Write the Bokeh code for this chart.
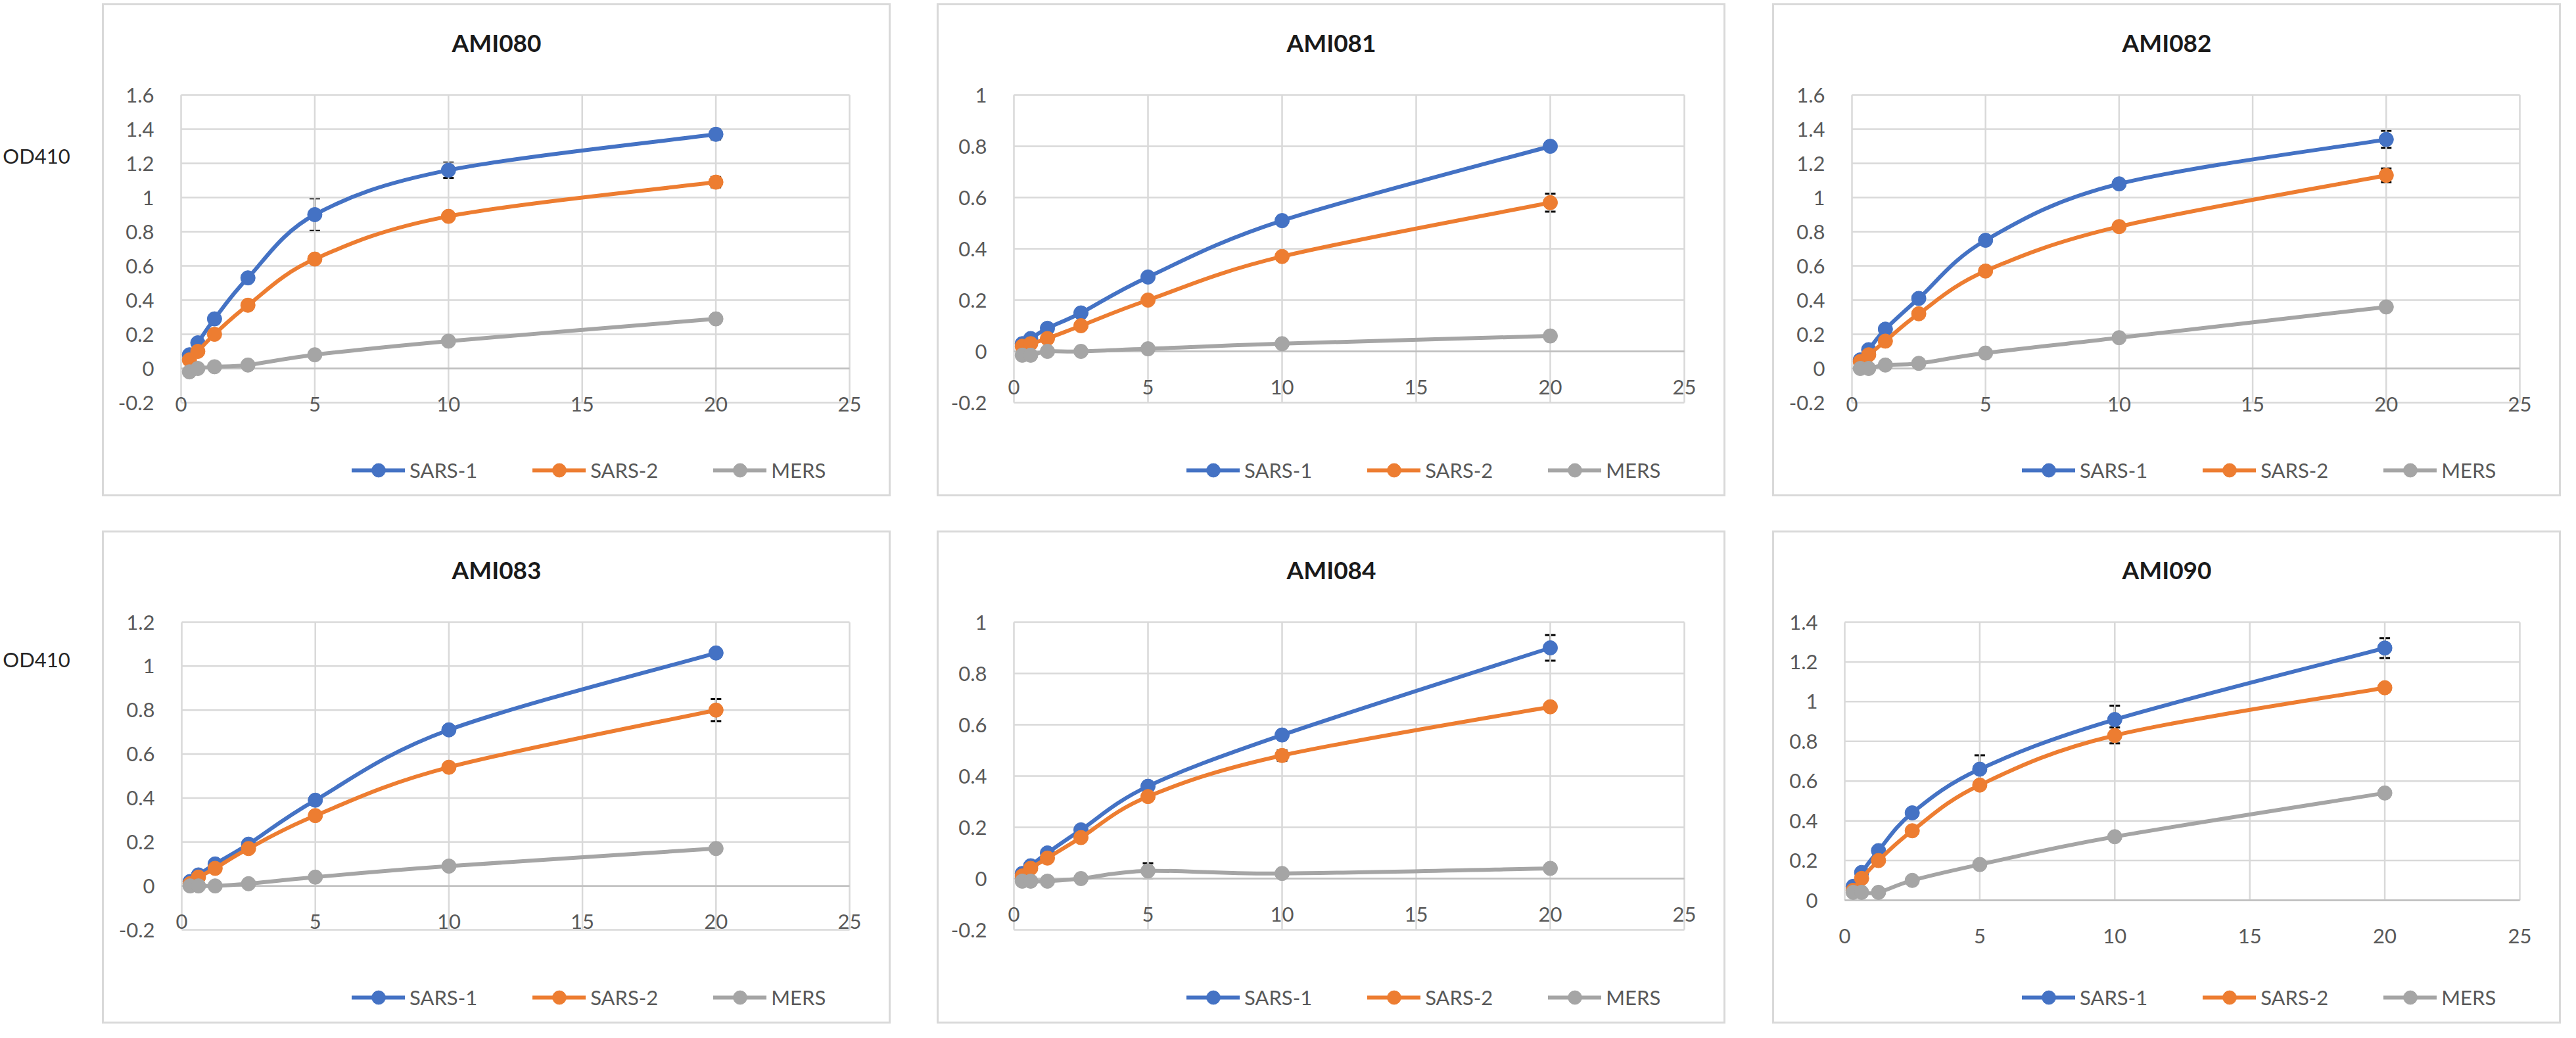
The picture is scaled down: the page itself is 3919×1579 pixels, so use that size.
from bokeh.plotting import figure
from bokeh.models import (Range1d, FixedTicker, CustomJSTickFormatter, Legend, LegendItem,
                          Whisker, ColumnDataSource, TeeHead, Label, Spacer)
from bokeh.layouts import row, column
from bokeh.embed import file_html
from bokeh.resources import INLINE

# ---------------- data ----------------
doses = [0.3125, 0.625, 1.25, 2.5, 5, 10, 20]
series_names = ["SARS-1", "SARS-2", "MERS"]
panel_titles = ["AMI080", "AMI081", "AMI082", "AMI083", "AMI084", "AMI090"]
x_ticks = [0, 5, 10, 15, 20, 25]

y_ticks_080 = [-0.2, 0.0, 0.2, 0.4, 0.6, 0.8, 1.0, 1.2, 1.4, 1.6]
y_ticks_081 = [-0.2, 0.0, 0.2, 0.4, 0.6, 0.8, 1.0]
y_ticks_082 = [-0.2, 0.0, 0.2, 0.4, 0.6, 0.8, 1.0, 1.2, 1.4, 1.6]
y_ticks_083 = [-0.2, 0.0, 0.2, 0.4, 0.6, 0.8, 1.0, 1.2]
y_ticks_084 = [-0.2, 0.0, 0.2, 0.4, 0.6, 0.8, 1.0]
y_ticks_090 = [0.0, 0.2, 0.4, 0.6, 0.8, 1.0, 1.2, 1.4]

ami080_sars1 = [0.08, 0.15, 0.29, 0.53, 0.90, 1.16, 1.37]
ami080_sars2 = [0.05, 0.10, 0.20, 0.37, 0.64, 0.89, 1.09]
ami080_mers = [-0.02, 0.00, 0.01, 0.02, 0.08, 0.16, 0.29]
ami080_sars1_err = [0, 0, 0, 0, 0.095, 0.045, 0.03]
ami080_sars2_err = [0, 0, 0, 0, 0, 0, 0.03]
ami080_mers_err = [0, 0, 0, 0, 0, 0, 0]

ami081_sars1 = [0.03, 0.05, 0.09, 0.15, 0.29, 0.51, 0.80]
ami081_sars2 = [0.02, 0.03, 0.05, 0.10, 0.20, 0.37, 0.58]
ami081_mers = [-0.015, -0.015, 0.00, 0.00, 0.01, 0.03, 0.06]
ami081_sars1_err = [0, 0, 0, 0, 0, 0, 0]
ami081_sars2_err = [0, 0, 0, 0, 0, 0, 0.035]
ami081_mers_err = [0, 0, 0, 0, 0, 0, 0]

ami082_sars1 = [0.05, 0.11, 0.23, 0.41, 0.75, 1.08, 1.34]
ami082_sars2 = [0.04, 0.08, 0.16, 0.32, 0.57, 0.83, 1.13]
ami082_mers = [0.00, 0.00, 0.02, 0.03, 0.09, 0.18, 0.36]
ami082_sars1_err = [0, 0, 0, 0, 0, 0, 0.05]
ami082_sars2_err = [0, 0, 0, 0, 0, 0, 0.04]
ami082_mers_err = [0, 0, 0, 0, 0, 0, 0]

ami083_sars1 = [0.02, 0.05, 0.10, 0.19, 0.39, 0.71, 1.06]
ami083_sars2 = [0.01, 0.04, 0.08, 0.17, 0.32, 0.54, 0.80]
ami083_mers = [0.00, 0.00, 0.00, 0.01, 0.04, 0.09, 0.17]
ami083_sars1_err = [0, 0, 0, 0, 0, 0, 0]
ami083_sars2_err = [0, 0, 0, 0, 0, 0, 0.05]
ami083_mers_err = [0, 0, 0, 0, 0, 0, 0]

ami084_sars1 = [0.02, 0.05, 0.10, 0.19, 0.36, 0.56, 0.90]
ami084_sars2 = [0.01, 0.04, 0.08, 0.16, 0.32, 0.48, 0.67]
ami084_mers = [-0.01, -0.01, -0.01, 0.00, 0.03, 0.02, 0.04]
ami084_sars1_err = [0, 0, 0, 0, 0, 0, 0.05]
ami084_sars2_err = [0, 0, 0, 0, 0, 0.02, 0]
ami084_mers_err = [0, 0, 0, 0, 0.03, 0, 0]

ami090_sars1 = [0.07, 0.14, 0.25, 0.44, 0.66, 0.91, 1.27]
ami090_sars2 = [0.05, 0.11, 0.20, 0.35, 0.58, 0.83, 1.07]
ami090_mers = [0.04, 0.04, 0.04, 0.10, 0.18, 0.32, 0.54]
ami090_sars1_err = [0, 0, 0, 0, 0.07, 0.07, 0.05]
ami090_sars2_err = [0, 0, 0, 0, 0, 0.04, 0]
ami090_mers_err = [0, 0, 0, 0, 0, 0, 0]

# ---------------- styling ----------------
COLORS = ["#4472C4", "#ED7D31", "#A5A5A5"]
FONT = "Lato"
TICK_COLOR = "#595959"
GRID_COLOR = "#d9d9d9"
AXIS_COLOR = "#bfbfbf"

PANEL_W, PANEL_H = 1200, 750
CHART_TOP = 139       # pixel row of the top gridline inside a panel
X_RIGHT = 1137        # pixel column of x = 25 inside a panel
PAD = 24              # extra frame room so the end tick labels are not clipped
FRAME_TOP = 8         # frame extends up to hold the title
FRAME_BOTTOM = 740    # frame extends down to hold the legend
TITLE_Y = 59          # title centre row inside a panel
LEGEND_X = 380        # legend left edge inside a panel
LEGEND_TOP = 684      # legend top inside a panel
GLYPH_H = 52


def smooth_segments(xs, ys):
    """Control points for an Excel-like smoothed line through the data points."""
    n = len(xs)
    seg = dict(x0=[], y0=[], x1=[], y1=[], cx0=[], cy0=[], cx1=[], cy1=[])
    for i in range(n - 1):
        a = i - 1 if i > 0 else i
        d = i + 2 if i + 2 < n else i + 1
        seg["x0"].append(xs[i]); seg["y0"].append(ys[i])
        seg["x1"].append(xs[i + 1]); seg["y1"].append(ys[i + 1])
        seg["cx0"].append(xs[i] + (xs[i + 1] - xs[a]) / 6.0)
        seg["cy0"].append(ys[i] + (ys[i + 1] - ys[a]) / 6.0)
        seg["cx1"].append(xs[i + 1] - (xs[d] - xs[i]) / 6.0)
        seg["cy1"].append(ys[i + 1] - (ys[d] - ys[i]) / 6.0)
    return seg


def make_panel(title, yticks, series, errors, x0_px, chart_bottom_px):
    ymin, ymax = yticks[0], yticks[-1]
    xmin, xmax = x_ticks[0], x_ticks[-1]
    ppu_x = (X_RIGHT - x0_px) / (xmax - xmin)
    ppu_y = (chart_bottom_px - CHART_TOP) / (ymax - ymin)
    x_pad = PAD / ppu_x
    y_ext_lo = (FRAME_BOTTOM - chart_bottom_px) / ppu_y
    y_ext_hi = (CHART_TOP - FRAME_TOP) / ppu_y

    frame_left = x0_px - PAD
    frame_right = X_RIGHT + PAD
    p = figure(width=PANEL_W, height=PANEL_H,
               x_range=Range1d(xmin - x_pad, xmax + x_pad),
               y_range=Range1d(ymin - y_ext_lo, ymax + y_ext_hi),
               output_backend="svg", toolbar_location=None,
               min_border_left=frame_left, min_border_right=PANEL_W - frame_right,
               min_border_top=FRAME_TOP, min_border_bottom=PANEL_H - FRAME_BOTTOM)
    p.styles = {"box-shadow": "inset 0 0 0 3px #d9d9d9"}
    p.background_fill_color = "white"
    p.border_fill_alpha = 0
    p.outline_line_color = None

    # panel title, centred on the panel
    p.add_layout(Label(x=xmin + (PANEL_W / 2 - x0_px) / ppu_x,
                       y=ymax + (CHART_TOP - TITLE_Y) / ppu_y,
                       text=title, text_align="center", text_baseline="middle",
                       text_font=FONT, text_font_size="37px", text_font_style="bold",
                       text_color="#1a1a1a"))

    fmt = CustomJSTickFormatter(code="return String(Number(tick.toFixed(2)));")
    xt = FixedTicker(ticks=x_ticks)
    yt = FixedTicker(ticks=yticks)

    xa = p.xaxis[0]
    xa.ticker = xt
    xa.fixed_location = 0
    xa.formatter = fmt
    xa.axis_line_color = None
    xa.major_tick_line_color = None
    xa.minor_tick_line_color = None
    xa.major_label_standoff = 37
    xa.major_label_text_font = FONT
    xa.major_label_text_font_size = "31px"
    xa.major_label_text_color = TICK_COLOR

    ya = p.yaxis[0]
    ya.ticker = yt
    ya.formatter = fmt
    ya.axis_line_color = None
    ya.major_tick_line_color = None
    ya.minor_tick_line_color = None
    ya.major_label_standoff = 35 - PAD
    ya.major_label_text_font = FONT
    ya.major_label_text_font_size = "31px"
    ya.major_label_text_color = TICK_COLOR

    p.grid.visible = False
    # gridlines limited to the chart area (the frame also holds title and legend)
    p.segment(x0=[xmin] * len(yticks), y0=yticks, x1=[xmax] * len(yticks), y1=yticks,
              line_color=GRID_COLOR, line_width=2.5)
    p.segment(x0=x_ticks, y0=[ymin] * len(x_ticks), x1=x_ticks, y1=[ymax] * len(x_ticks),
              line_color=GRID_COLOR, line_width=2.5)
    # horizontal axis line at y = 0
    p.segment(x0=[xmin], y0=[0], x1=[xmax], y1=[0], line_color=AXIS_COLOR, line_width=2.5)

    items = []
    for name, ys, errs, color in zip(series_names, series, errors, COLORS):
        seg = ColumnDataSource(smooth_segments(doses, ys))
        r_line = p.bezier(x0="x0", y0="y0", x1="x1", y1="y1", cx0="cx0", cy0="cy0",
                          cx1="cx1", cy1="cy1", source=seg,
                          line_color=color, line_width=6, line_cap="round")
        r_pts = p.scatter(doses, ys, marker="circle", size=22,
                          fill_color=color, line_color=color)
        bx = [x for x, e in zip(doses, errs) if e > 0]
        if bx:
            up = [y + e for y, e in zip(ys, errs) if e > 0]
            lo = [y - e for y, e in zip(ys, errs) if e > 0]
            wsrc = ColumnDataSource(dict(base=bx, upper=up, lower=lo))
            w = Whisker(base="base", upper="upper", lower="lower", source=wsrc,
                        dimension="height", line_color="black", line_width=3,
                        upper_head=TeeHead(size=16, line_color="black", line_width=3),
                        lower_head=TeeHead(size=16, line_color="black", line_width=3))
            p.add_layout(w)
        items.append(LegendItem(label=name, renderers=[r_line, r_pts]))

    legend = Legend(items=items, orientation="horizontal",
                    location=(LEGEND_X - frame_left, FRAME_BOTTOM - LEGEND_TOP - GLYPH_H),
                    glyph_width=81, glyph_height=GLYPH_H, label_standoff=7, spacing=84,
                    padding=0, margin=0, border_line_color=None,
                    background_fill_alpha=0,
                    label_text_font=FONT, label_text_font_size="31px",
                    label_text_color=TICK_COLOR)
    p.add_layout(legend)
    return p


panels_spec = [
    (panel_titles[0], y_ticks_080, [ami080_sars1, ami080_sars2, ami080_mers],
     [ami080_sars1_err, ami080_sars2_err, ami080_mers_err], 120, 607),
    (panel_titles[1], y_ticks_081, [ami081_sars1, ami081_sars2, ami081_mers],
     [ami081_sars1_err, ami081_sars2_err, ami081_mers_err], 117, 607),
    (panel_titles[2], y_ticks_082, [ami082_sars1, ami082_sars2, ami082_mers],
     [ami082_sars1_err, ami082_sars2_err, ami082_mers_err], 121, 607),
    (panel_titles[3], y_ticks_083, [ami083_sars1, ami083_sars2, ami083_mers],
     [ami083_sars1_err, ami083_sars2_err, ami083_mers_err], 121, 607),
    (panel_titles[4], y_ticks_084, [ami084_sars1, ami084_sars2, ami084_mers],
     [ami084_sars1_err, ami084_sars2_err, ami084_mers_err], 117, 607),
    (panel_titles[5], y_ticks_090, [ami090_sars1, ami090_sars2, ami090_mers],
     [ami090_sars1_err, ami090_sars2_err, ami090_mers_err], 110, 562),
]

panels = [make_panel(*spec) for spec in panels_spec]

TOTAL_H = 1557
LABEL_W = 155
lab = figure(width=LABEL_W, height=TOTAL_H, x_range=Range1d(0, LABEL_W),
             y_range=Range1d(TOTAL_H, 0),
             output_backend="svg", toolbar_location=None, min_border=0,
             x_axis_location=None, y_axis_location=None)
lab.grid.visible = False
lab.outline_line_color = None
lab.background_fill_alpha = 0
lab.border_fill_alpha = 0
for yc in (236, 1002):
    lab.add_layout(Label(x=55, y=yc, text="OD410", text_align="center",
                         text_baseline="middle",
                         text_font=FONT, text_font_size="31px", text_color="#262626"))

grid = column(
    Spacer(width=10, height=5),
    row(panels[0], Spacer(width=70, height=10), panels[1], Spacer(width=71, height=10), panels[2]),
    Spacer(width=10, height=52),
    row(panels[3], Spacer(width=70, height=10), panels[4], Spacer(width=71, height=10), panels[5]),
)
page = row(lab, grid)

open("out.html", "w").write(file_html(page, INLINE))
